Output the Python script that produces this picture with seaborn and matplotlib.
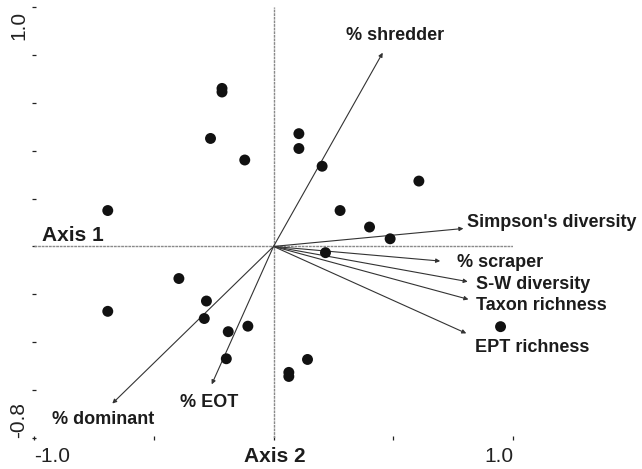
import matplotlib
matplotlib.use("Agg")
import matplotlib.pyplot as plt
import matplotlib.transforms as mtransforms
import seaborn as sns
import pandas as pd

# Site scores
site_x = [-0.692, -0.215, -0.215, -0.263, -0.120, 0.106, 0.106, 0.203, 0.607, 0.278,
          0.401, 0.487, 0.217, 0.948, -0.395, -0.692, -0.280, -0.289, -0.189, -0.107,
          -0.197, 0.064, 0.064, 0.142]
site_y = [0.150, 0.660, 0.645, 0.451, 0.361, 0.471, 0.409, 0.335, 0.273, 0.150,
          0.081, 0.032, -0.026, -0.335, -0.134, -0.271, -0.228, -0.301, -0.356, -0.333,
          -0.469, -0.526, -0.543, -0.472]

# Variable loadings (arrow tips) and labels
var_names = ["% shredder", "Simpson's diversity", "% scraper", "S-W diversity",
             "Taxon richness", "EPT richness", "% dominant", "% EOT"]
var_x = [0.456, 0.793, 0.696, 0.811, 0.814, 0.805, -0.673, -0.258]
var_y = [0.809, 0.075, -0.061, -0.147, -0.221, -0.363, -0.656, -0.576]
label_x = [0.3035, 0.809, 0.768, 0.846, 0.846, 0.843, -0.924, -0.392]
label_y = [0.881, 0.100, -0.067, -0.159, -0.246, -0.422, -0.722, -0.650]

x_ticks = [-1.0, -0.5, 0.0, 0.5, 1.0]
x_ticklabels = ["-1.0", "", "", "", "1.0"]
y_ticks = [-0.8, -0.6, -0.4, -0.2, 0.0, 0.2, 0.4, 0.6, 0.8, 1.0]
y_ticklabels = ["-0.8", "", "", "", "", "", "", "", "", "1.0"]

sns.set_style("white")
plt.rcParams['font.family'] = ['Liberation Sans', 'DejaVu Sans']

fig = plt.figure(figsize=(6.42, 4.69), dpi=100)
ax = fig.add_axes([34 / 642, 31 / 469, 479 / 642, 431 / 469])
ax.set_xlim(-1.0, 1.0)
ax.set_ylim(-0.8, 1.0)
for s in ax.spines.values():
    s.set_visible(False)

ref_kw = dict(color="#8a8a8a", lw=1.0, linestyle=(0, (2, 0.6)), zorder=1)
ax.axhline(0, **ref_kw)
ax.axvline(0, **ref_kw)

df = pd.DataFrame({"x": site_x, "y": site_y})
sns.scatterplot(data=df, x="x", y="y", ax=ax, color="#111111", s=62,
                edgecolor="none", zorder=3, legend=False)

txt_color = "#1c1c1c"
for name, vx, vy, lx, ly in zip(var_names, var_x, var_y, label_x, label_y):
    ax.annotate("", xy=(vx, vy), xytext=(0, 0),
                arrowprops=dict(arrowstyle="-|>", color="#333333", lw=0.8,
                                mutation_scale=6, shrinkA=0, shrinkB=0),
                zorder=2)
    ax.text(lx, ly, name, ha="left", va="center", fontsize=13,
            fontweight="bold", color=txt_color, clip_on=False)

ax.text(-0.965, 0.005, "Axis 1", ha="left", va="bottom", fontsize=15,
        fontweight="bold", color=txt_color)
ax.text(0.006, -0.876, "Axis 2", ha="center", va="center", fontsize=15,
        fontweight="bold", color=txt_color, clip_on=False)

ax.set_xticks(x_ticks)
ax.set_xticklabels(x_ticklabels)
ax.set_yticks(y_ticks)
ax.set_yticklabels(y_ticklabels)
ax.set_xlabel("")
ax.set_ylabel("")
ax.tick_params(axis="both", direction="inout", length=3.5, width=0.9,
               colors="#222222", labelsize=15, left=True, bottom=True)
ax.tick_params(axis="x", pad=5)
ax.tick_params(axis="y", pad=2.5)
xl = ax.get_xticklabels()
xl[0].set_ha("left")
xl[-1].set_ha("right")
for lbl in ax.get_yticklabels():
    lbl.set_rotation(90)
    lbl.set_ha("right")
yl = ax.get_yticklabels()
yl[0].set_va("bottom")
yl[-1].set_va("top")
shift = mtransforms.ScaledTranslation(0, -4 / 100, fig.dpi_scale_trans)
yl[-1].set_transform(yl[-1].get_transform() + shift)

fig.savefig("out.png", dpi=100)
